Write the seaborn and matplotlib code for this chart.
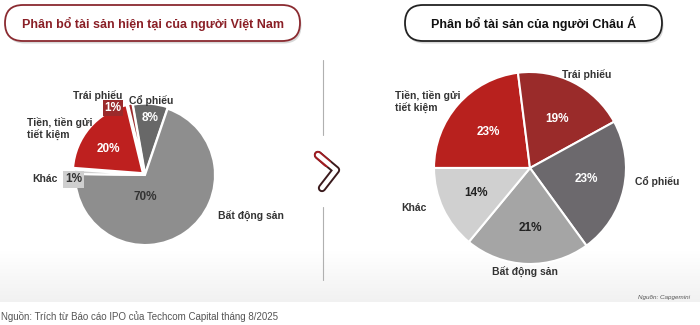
import numpy as np
import matplotlib
matplotlib.use('Agg')
import matplotlib.pyplot as plt
import seaborn as sns
from matplotlib.patches import FancyBboxPatch

# Data
vn_labels = ['Cổ phiếu', 'Bất động sản', 'Khác', 'Tiền, tiền gửi\ntiết kiệm', 'Trái phiếu']
vn_values = [8, 70, 1, 20, 1]
vn_colors = ['#686868', '#8e8e8e', '#cfcfcf', '#be201f', '#9b2a2b']

asia_labels = ['Tiền, tiền gửi\ntiết kiệm', 'Trái phiếu', 'Cổ phiếu', 'Bất động sản', 'Khác']
asia_values = [23, 19, 23, 21, 14]
asia_colors = ['#b8211e', '#9a2b2a', '#6c696d', '#a5a5a5', '#d0d0d0']

title_vn = 'Phân bổ tài sản hiện tại của người Việt Nam'
title_asia = 'Phân bổ tài sản của người Châu Á'
source_small = 'Nguồn: Capgemini'
source_main = 'Nguồn: Trích từ Báo cáo IPO của Techcom Capital tháng 8/2025'

sns.set_theme(style='white')
plt.rcParams['font.family'] = ['Liberation Sans', 'DejaVu Sans']

fig = plt.figure(figsize=(7, 3.25), dpi=100)

# background axes in pixel coordinates
bg = fig.add_axes([0, 0, 1, 1])
bg.set_xlim(0, 700)
bg.set_ylim(325, 0)
bg.axis('off')

rows = np.arange(325)
shade = np.where(rows < 250, 1.0,
                 np.where(rows < 302, 1.0 - 0.055 * (rows - 250) / 52, 1.0))
grad = np.repeat(shade[:, None], 3, axis=1)[:, None, :]
bg.imshow(grad, extent=(0, 700, 325, 0), aspect='auto', zorder=0)

# title pills
for (x0, w, txt, ec, tc) in [(5, 295, title_vn, '#8a2a30', '#8a1f26'),
                              (405, 257, title_asia, '#222222', '#111111')]:
    shadow = FancyBboxPatch((x0 + 1.5, 7.5), w, 36, boxstyle='round,pad=0,rounding_size=18',
                            fc='#d8d8d8', ec='none', zorder=1)
    bg.add_patch(shadow)
    pill = FancyBboxPatch((x0, 5), w, 36, boxstyle='round,pad=0,rounding_size=18',
                          fc='white', ec=ec, lw=1.3, zorder=2)
    bg.add_patch(pill)
    bg.text(x0 + w / 2, 23.5, txt, ha='center', va='center', fontsize=9,
            fontweight='bold', color=tc, zorder=3)

# separator and chevron
bg.plot([323, 323], [60, 135], color='#b0b0b0', lw=0.8, zorder=2)
bg.plot([323, 323], [207, 280], color='#b0b0b0', lw=0.8, zorder=2)
bg.plot([318, 336, 322], [155, 170, 188], color='#3a1a1c', lw=6, solid_capstyle='round',
        solid_joinstyle='round', zorder=2)
bg.plot([318, 327], [155, 163], color='#a01c22', lw=6, solid_capstyle='round', zorder=2)
bg.plot([318, 336, 322], [155, 170, 188], color='white', lw=3.2, solid_capstyle='round',
        solid_joinstyle='round', zorder=3)

bg.text(690, 297, source_small, ha='right', va='center', fontsize=4.5,
        style='italic', color='#555555')
bg.text(1, 317, source_main, ha='left', va='center', fontsize=7, color='#555555')

bold = dict(fontweight='bold', fontsize=7.5)

# left pie: center (145,175) px, radius 70 px
ax1 = fig.add_axes([5 / 700, 35 / 325, 280 / 700, 230 / 325])
ax1.pie(vn_values, colors=vn_colors, startangle=100, counterclock=False,
        explode=[0.02, 0, 0.02, 0.04, 0.04],
        wedgeprops=dict(edgecolor='white', linewidth=1.5))
ax1.set_xlim(-2, 2)
ax1.set_ylim(-1.643, 1.643)
ax1.set_aspect('equal')
ax1.axis('off')

ax1.text(-0.67, 1.14, vn_labels[4], ha='center', va='center', color='#333333', **bold)
ax1.text(-0.46, 0.96, '1%', ha='center', va='center', color='white', fontweight='bold',
         fontsize=8.5, bbox=dict(boxstyle='square,pad=0.15', fc='#9b2a2b', ec='none'))
ax1.text(0.09, 1.07, vn_labels[0], ha='center', va='center', color='#333333', **bold)
ax1.text(0.07, 0.81, '8%', ha='center', va='center', color='white', fontweight='bold', fontsize=8.5)
ax1.text(-1.69, 0.66, vn_labels[3], ha='left', va='center', color='#333333',
         linespacing=1.2, **bold)
ax1.text(-0.53, 0.37, '20%', ha='center', va='center', color='white', fontweight='bold', fontsize=8.5)
ax1.text(-1.61, -0.06, vn_labels[2], ha='left', va='center', color='#333333', **bold)
ax1.text(-1.02, -0.06, '1%', ha='center', va='center', color='#333333', fontweight='bold',
         fontsize=8.5, bbox=dict(boxstyle='square,pad=0.2', fc='#cfcfcf', ec='none'))
ax1.text(0, -0.31, '70%', ha='center', va='center', color='#333333', fontweight='bold', fontsize=8.5)
ax1.text(1.04, -0.59, vn_labels[1], ha='left', va='center', color='#333333', **bold)

# right pie: center (530,168) px, radius 96 px
ax2 = fig.add_axes([380 / 700, 40 / 325, 300 / 700, 230 / 325])
ax2.pie(asia_values, colors=asia_colors, startangle=180, counterclock=False,
        wedgeprops=dict(edgecolor='white', linewidth=1.5))
ax2.set_xlim(-1.5625, 1.5625)
ax2.set_ylim(-1.219, 1.177)
ax2.set_aspect('equal')
ax2.axis('off')

ax2.text(0.59, 0.97, asia_labels[1], ha='center', va='center', color='#333333', **bold)
ax2.text(-1.41, 0.69, asia_labels[0], ha='left', va='center', color='#333333',
         linespacing=1.2, **bold)
ax2.text(1.09, -0.14, asia_labels[2], ha='left', va='center', color='#333333', **bold)
ax2.text(-1.21, -0.42, asia_labels[4], ha='center', va='center', color='#333333', **bold)
ax2.text(-0.05, -1.09, asia_labels[3], ha='center', va='center', color='#333333', **bold)

pct_pos = [(-0.43, 0.375), (0.28, 0.51), (0.59, -0.11), (0, -0.625), (-0.56, -0.26)]
pct_col = ['white', 'white', 'white', '#222222', '#222222']
for v, (x, y), c in zip(asia_values, pct_pos, pct_col):
    ax2.text(x, y, f'{v}%', ha='center', va='center', color=c, fontweight='bold', fontsize=8.5)

fig.savefig('out.png', dpi=100)
